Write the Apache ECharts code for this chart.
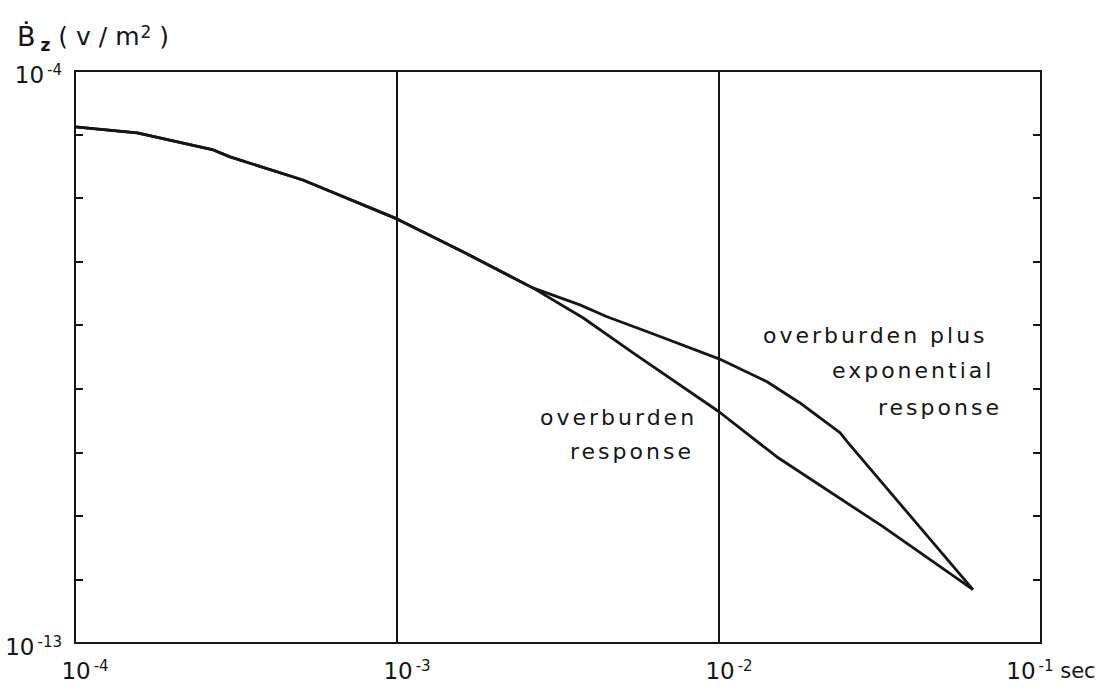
<!DOCTYPE html>
<html>
<head>
<meta charset="utf-8">
<style>
  html, body { margin: 0; padding: 0; background: #fff; }
  #chart { width: 1102px; height: 694px; }
  /* hand-lettered look for the curve captions */
  #chart text[style*="22px"] { letter-spacing: 3px; }
</style>
<script src="https://cdn.jsdelivr.net/npm/echarts@6.0.0/dist/echarts.min.js"></script>
</head>
<body>
<div id="chart"></div>
<script>
// Early-time decay common to both responses: time (s) and dBz/dt (V/m^2)
const sharedTime  = [1.0e-4, 1.56e-4, 2.69e-4, 3.03e-4, 5.1e-4, 1.0e-3, 1.63e-3, 2.64e-3];
const sharedField = [1.32e-5, 1.06e-5, 5.73e-6, 4.45e-6, 1.93e-6, 4.71e-7, 1.37e-7, 3.87e-8];

// Overburden alone, after the curves separate
const overburdenTime  = [3.78e-3, 5.41e-3, 1.0e-2, 1.51e-2, 3.23e-2, 6.15e-2];
const overburdenField = [1.31e-8, 3.68e-9, 4.35e-10, 8.53e-11, 6.76e-12, 6.92e-13];

// Overburden plus exponential, after the curves separate
const combinedTime  = [3.70e-3, 4.49e-3, 6.11e-3, 1.0e-2, 1.41e-2, 1.78e-2, 2.38e-2, 2.50e-2, 6.15e-2];
const combinedField = [2.09e-8, 1.36e-8, 7.60e-9, 2.96e-9, 1.29e-9, 6.03e-10, 2.03e-10, 1.47e-10, 6.92e-13];

// Decade exponents written on the axes
const timeTickExponents  = [-4, -3, -2, -1];
const fieldTickExponents = [-4, -13];
const timeUnit = 'sec';

const INK = '#151515';
const FONT = 'DejaVu Sans';

function pairs(ts, vs) { return ts.map((t, i) => [t, vs[i]]); }
const overburdenData = pairs(sharedTime, sharedField).concat(pairs(overburdenTime, overburdenField));
const combinedData   = pairs(sharedTime, sharedField).concat(pairs(combinedTime, combinedField));

const expOf = v => Math.round(Math.log10(v));

const powerRich = {
  b: { fontFamily: FONT, fontSize: 23, fontWeight: 'normal', color: INK, lineHeight: 26 },
  s: { fontFamily: FONT, fontSize: 15, fontWeight: 'normal', color: INK, lineHeight: 15, verticalAlign: 'top', padding: [0, 0, 0, 3] },
  u: { fontFamily: FONT, fontSize: 21, fontWeight: 'normal', color: INK, lineHeight: 26 }
};

const fieldAxisBase = {
  type: 'log',
  logBase: 10,
  min: 1e-13,
  max: 1e-4,
  interval: 1,
  axisLine: { show: true, lineStyle: { color: INK, width: 2 } },
  axisTick: { show: true, inside: true, length: 8, lineStyle: { color: INK, width: 2 } },
  splitLine: { show: false },
  minorTick: { show: false }
};

const chart = echarts.init(document.getElementById('chart'), null, { renderer: 'svg' });

chart.setOption({
  backgroundColor: '#fff',
  animation: false,
  title: {
    text: '{b|Ḃ}{z|z}{t| ( v / m}{p|2}{t| )}',
    left: 12,
    top: 14,
    textStyle: {
      fontWeight: 'normal',
      fontFamily: FONT,
      rich: {
        b: { fontFamily: FONT, fontSize: 27, fontWeight: 'normal', color: INK, lineHeight: 34 },
        z: { fontFamily: FONT, fontSize: 17, fontWeight: 'bold', color: INK, lineHeight: 16, verticalAlign: 'bottom', padding: [0, 0, 0, 5] },
        t: { fontFamily: FONT, fontSize: 25, fontWeight: 'normal', color: INK, lineHeight: 34 },
        p: { fontFamily: FONT, fontSize: 17, fontWeight: 'normal', color: INK, lineHeight: 17, verticalAlign: 'top', padding: [4, 0, 0, 1] }
      }
    }
  },
  grid: {
    left: 75, right: 61, top: 71, bottom: 51,
    show: true, borderColor: INK, borderWidth: 2, backgroundColor: 'transparent'
  },
  xAxis: {
    type: 'log',
    logBase: 10,
    min: 1e-4,
    max: 1e-1,
    interval: 1,
    axisLine: { show: true, lineStyle: { color: INK, width: 2 } },
    axisTick: { show: false },
    minorTick: { show: false },
    splitLine: { show: true, lineStyle: { color: INK, width: 2 } },
    axisLabel: {
      margin: 15,
      fontSize: 23,
      fontFamily: FONT,
      color: INK,
      padding: [0, 0, 0, 20],
      formatter: v => {
        const e = expOf(v);
        if (!timeTickExponents.includes(e)) return '';
        return '{b|10}{s|' + e + '}' + (e === -1 ? '{u| ' + timeUnit + '}' : '');
      },
      rich: powerRich
    }
  },
  yAxis: [
    Object.assign({}, fieldAxisBase, {
      position: 'left',
      axisLabel: {
        margin: 13,
        fontSize: 23,
        fontFamily: FONT,
        color: INK,
        padding: [8, 0, 0, 0],
        formatter: v => {
          const e = expOf(v);
          return fieldTickExponents.includes(e) ? '{b|10}{s|' + e + '}' : '';
        },
        rich: powerRich
      }
    }),
    Object.assign({}, fieldAxisBase, {
      position: 'right',
      axisLabel: { show: false }
    })
  ],
  series: [
    {
      name: 'overburden response',
      type: 'line',
      data: overburdenData,
      showSymbol: false,
      symbol: 'none',
      lineStyle: { color: INK, width: 2.8 },
      z: 3
    },
    {
      name: 'overburden plus exponential response',
      type: 'line',
      data: combinedData,
      showSymbol: false,
      symbol: 'none',
      lineStyle: { color: INK, width: 2.8 },
      z: 3
    }
  ],
  graphic: [
    { type: 'text', x: 763, y: 335, style: { text: 'overburden plus', fontFamily: FONT, fontSize: 22, fill: INK, align: 'left', verticalAlign: 'middle' } },
    { type: 'text', x: 832, y: 370, style: { text: 'exponential', fontFamily: FONT, fontSize: 22, fill: INK, align: 'left', verticalAlign: 'middle' } },
    { type: 'text', x: 878, y: 407, style: { text: 'response', fontFamily: FONT, fontSize: 22, fill: INK, align: 'left', verticalAlign: 'middle' } },
    { type: 'text', x: 540, y: 417, style: { text: 'overburden', fontFamily: FONT, fontSize: 22, fill: INK, align: 'left', verticalAlign: 'middle' } },
    { type: 'text', x: 570, y: 451, style: { text: 'response', fontFamily: FONT, fontSize: 22, fill: INK, align: 'left', verticalAlign: 'middle' } }
  ]
});
</script>
</body>
</html>
